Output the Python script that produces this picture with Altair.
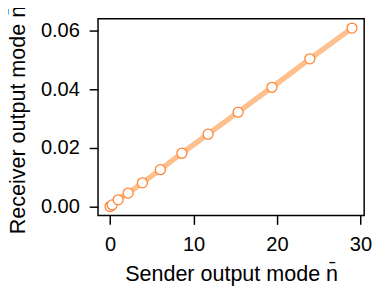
import altair as alt
import pandas as pd

sender = [0.0, 0.24, 0.96, 2.16, 3.87, 6.02, 8.6, 11.74, 15.34, 19.4, 23.94, 28.99]
receiver = [0.0, 0.00055, 0.0023, 0.0046, 0.0081, 0.0126, 0.0182, 0.0247, 0.0322, 0.0407, 0.0504, 0.0609]
x_ticks = [0, 10, 20, 30]
y_ticks = [0.0, 0.02, 0.04, 0.06]

df = pd.DataFrame({"x": sender, "y": receiver})

FONT = "Liberation Sans"

xenc = alt.X("x:Q", scale=alt.Scale(domain=[-1.45, 30.45], nice=False, zero=False),
             axis=alt.Axis(values=x_ticks, title="Sender output mode n\u0304", format="d",
                           grid=False, domain=False, tickSize=9, tickWidth=1.5, tickColor="black",
                           labelPadding=11, labelFontSize=20.5, labelColor="black", labelFont=FONT,
                           titleFont=FONT, titleFontSize=22, titleFontWeight="normal", titleColor="black",
                           titleBaseline="alphabetic", titleY=66))
yenc = alt.Y("y:Q", scale=alt.Scale(domain=[-0.00305, 0.06405], nice=False, zero=False),
             axis=alt.Axis(values=y_ticks, title="Receiver output mode n\u0304", format=".2f",
                           grid=False, domain=False, tickSize=9, tickWidth=1.5, tickColor="black",
                           labelPadding=10, labelFontSize=20.5, labelColor="black", labelFont=FONT,
                           titleFont=FONT, titleFontSize=22, titleFontWeight="normal", titleColor="black",
                           titleBaseline="alphabetic", titleX=-75, titleY=103))

line = alt.Chart(df).mark_line(color="#ffc090", strokeWidth=5.5).encode(x=xenc, y=yenc)
pts = alt.Chart(df).mark_point(shape="circle", size=105, filled=True, fill="white",
                               stroke="#ff8432", strokeWidth=1.3, opacity=1).encode(x=xenc, y=yenc)

chart = (line + pts).properties(
    width=272, height=201,
    background="white",
    autosize=alt.AutoSizeParams(type="none"),
    padding={"left": 92, "top": 8, "right": 8, "bottom": 71},
).configure_view(stroke="black", strokeWidth=1.5)

chart.save("out.html", embed_options={"renderer": "svg", "actions": False})
